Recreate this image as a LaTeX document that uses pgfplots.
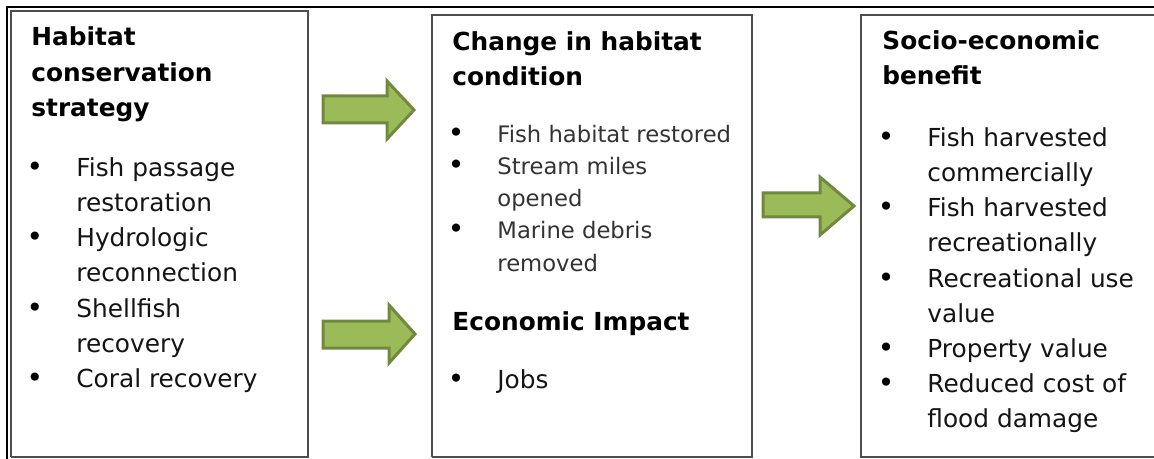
\documentclass[border=0pt]{standalone}
\usepackage{fontspec}
\setmainfont{DejaVu Sans}
\usepackage{pgfplots}
\pgfplotsset{compat=1.18}
\definecolor{arrowfill}{HTML}{9BBB59}
\definecolor{arrowedge}{HTML}{71893F}
\definecolor{boxedge}{HTML}{4D4D4D}
\definecolor{midtext}{HTML}{333333}
\tikzset{
  ttl/.style={anchor=base west, inner sep=0pt, font=\fontsize{12.4pt}{14pt}\selectfont\bfseries},
  bd/.style={anchor=base west, inner sep=0pt, text=black!92, font=\fontsize{12.4pt}{14pt}\selectfont},
  bdm/.style={anchor=base west, inner sep=0pt, text=midtext, font=\fontsize{11.35pt}{13pt}\selectfont},
  bl/.style={anchor=base, inner sep=0pt, font=\fontsize{14pt}{14pt}\selectfont},
}
\begin{document}
\begin{tikzpicture}
\begin{axis}[
  width=577pt, height=229.5pt, scale only axis,
  xmin=0, xmax=1154, ymin=0, ymax=459, y dir=reverse,
  hide axis, clip=false,
]
% outer frame
\addplot[black, line width=1.2pt, mark=none] coordinates {(7,459) (7,7) (1154,7)};
% boxes
\addplot[boxedge, line width=0.75pt, mark=none] coordinates {(11,457) (11,11) (308,11) (308,457) (11,457)};
\addplot[boxedge, line width=0.75pt, mark=none] coordinates {(432,457) (432,15) (752,15) (752,457) (432,457)};
\addplot[boxedge, line width=0.75pt, mark=none] coordinates {(1154,15) (861,15) (861,457) (1154,457)};
% arrows
\addplot[fill=arrowfill, draw=arrowedge, line width=1.5pt, line join=miter, mark=none]
  coordinates {(323,96) (387,96) (387,81) (414,110) (387,139) (387,123) (323,123)} -- cycle;
\addplot[fill=arrowfill, draw=arrowedge, line width=1.5pt, line join=miter, mark=none]
  coordinates {(323,321) (389,321) (389,305) (415,334) (389,363) (389,348) (323,348)} -- cycle;
\addplot[fill=arrowfill, draw=arrowedge, line width=1.5pt, line join=miter, mark=none]
  coordinates {(763,193) (820,193) (820,177) (854,206) (820,235) (820,217) (763,217)} -- cycle;
% left box text
\node[ttl] at (axis cs:31,46) {Habitat};
\node[ttl] at (axis cs:31,82) {conservation};
\node[ttl] at (axis cs:31,117) {strategy};
\node[bl] at (axis cs:35,177) {•};
\node[bd] at (axis cs:76,177) {Fish passage};
\node[bd] at (axis cs:76,212) {restoration};
\node[bl] at (axis cs:35,247) {•};
\node[bd] at (axis cs:76,247) {Hydrologic};
\node[bd] at (axis cs:76,282) {reconnection};
\node[bl] at (axis cs:35,317) {•};
\node[bd] at (axis cs:76,317) {Shellfish};
\node[bd] at (axis cs:76,352) {recovery};
\node[bl] at (axis cs:35,387) {•};
\node[bd] at (axis cs:76,387) {Coral recovery};
% middle box text
\node[ttl] at (axis cs:452,51) {Change in habitat};
\node[ttl] at (axis cs:452,86) {condition};
\node[bl] at (axis cs:456,143) {•};
\node[bdm] at (axis cs:497,143) {Fish habitat restored};
\node[bl] at (axis cs:456,175) {•};
\node[bdm] at (axis cs:497,175) {Stream miles};
\node[bdm] at (axis cs:497,207) {opened};
\node[bl] at (axis cs:456,239) {•};
\node[bdm] at (axis cs:497,239) {Marine debris};
\node[bdm] at (axis cs:497,271) {removed};
\node[ttl] at (axis cs:452,330) {Economic Impact};
\node[bl] at (axis cs:456,388) {•};
\node[bd] at (axis cs:497,388) {Jobs};
% right box text
\node[ttl] at (axis cs:882,50) {Socio-economic};
\node[ttl] at (axis cs:882,85) {benefit};
\node[bl] at (axis cs:886,147) {•};
\node[bd] at (axis cs:927,147) {Fish harvested};
\node[bd] at (axis cs:927,182) {commercially};
\node[bl] at (axis cs:886,217) {•};
\node[bd] at (axis cs:927,217) {Fish harvested};
\node[bd] at (axis cs:927,252) {recreationally};
\node[bl] at (axis cs:886,287) {•};
\node[bd] at (axis cs:927,287) {Recreational use};
\node[bd] at (axis cs:927,322) {value};
\node[bl] at (axis cs:886,357) {•};
\node[bd] at (axis cs:927,357) {Property value};
\node[bl] at (axis cs:886,392) {•};
\node[bd] at (axis cs:927,392) {Reduced cost of};
\node[bd] at (axis cs:927,427) {flood damage};
\end{axis}
\pgfresetboundingbox
\path (0,0) rectangle (577pt,229.5pt);
\end{tikzpicture}
\end{document}
